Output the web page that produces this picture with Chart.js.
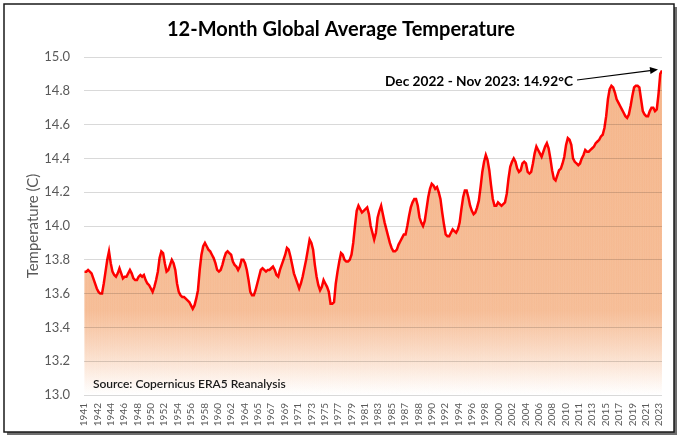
<!DOCTYPE html>
<html>
<head>
<meta charset="utf-8">
<script src="https://cdn.jsdelivr.net/npm/chart.js@4.4.0/dist/chart.umd.min.js"></script>
<style>
  html, body { margin: 0; padding: 0; background: #fff; }
  #wrap { position: relative; width: 680px; height: 438px; }
</style>
</head>
<body>
<div id="wrap"><canvas id="tempChart" width="680" height="438"></canvas></div>
<script>
// 12-month running mean global temperature (C), one reading every 3 months,
// first point Feb 1941, last point Nov 2023
const firstMonth = 1;      // months after Jan 1941
const stepMonths = 3;
const temps = [
    13.73, 13.73, 13.74, 13.73,  13.72, 13.69, 13.66, 13.63,  13.61, 13.60, 13.60, 13.66,
    13.73, 13.80, 13.85, 13.78,  13.73, 13.71, 13.70, 13.72,  13.75, 13.72, 13.69, 13.70,
    13.70, 13.72, 13.74, 13.72,  13.69, 13.68, 13.68, 13.70,  13.71, 13.70, 13.71, 13.68,
    13.66, 13.65, 13.63, 13.61,  13.64, 13.68, 13.73, 13.81,  13.85, 13.84, 13.78, 13.73,
    13.74, 13.77, 13.80, 13.78,  13.74, 13.66, 13.61, 13.59,  13.58, 13.58, 13.57, 13.56,
    13.55, 13.53, 13.51, 13.53,  13.57, 13.62, 13.74, 13.83,  13.88, 13.90, 13.88, 13.86,
    13.85, 13.83, 13.81, 13.78,  13.74, 13.73, 13.74, 13.77,  13.81, 13.84, 13.85, 13.84,
    13.83, 13.79, 13.77, 13.76,  13.74, 13.76, 13.80, 13.80,  13.78, 13.74, 13.68, 13.61,
    13.59, 13.59, 13.62, 13.66,  13.70, 13.74, 13.75, 13.74,  13.73, 13.74, 13.74, 13.75,
    13.76, 13.74, 13.71, 13.70,  13.74, 13.77, 13.80, 13.83,  13.87, 13.86, 13.82, 13.77,
    13.72, 13.69, 13.66, 13.63,  13.66, 13.70, 13.75, 13.80,  13.86, 13.92, 13.90, 13.86,
    13.77, 13.70, 13.65, 13.62,  13.64, 13.68, 13.66, 13.64,  13.61, 13.54, 13.54, 13.55,
    13.66, 13.73, 13.79, 13.84,  13.83, 13.80, 13.79, 13.79,  13.80, 13.83, 13.90, 14.00,
    14.09, 14.12, 14.10, 14.08,  14.09, 14.10, 14.11, 14.07,  14.00, 13.96, 13.92, 13.96,
    14.05, 14.09, 14.12, 14.07,  14.02, 13.98, 13.94, 13.90,  13.87, 13.85, 13.85, 13.86,
    13.89, 13.91, 13.93, 13.95,  13.95, 14.00, 14.06, 14.11,  14.14, 14.16, 14.16, 14.12,
    14.05, 14.02, 14.00, 14.03,  14.10, 14.17, 14.22, 14.25,  14.24, 14.22, 14.23, 14.20,
    14.16, 14.08, 14.01, 13.95,  13.94, 13.94, 13.96, 13.98,  13.97, 13.96, 13.98, 14.02,
    14.10, 14.17, 14.21, 14.21,  14.17, 14.12, 14.09, 14.07,  14.08, 14.11, 14.15, 14.23,
    14.32, 14.38, 14.42, 14.39,  14.33, 14.24, 14.16, 14.12,  14.12, 14.14, 14.13, 14.12,
    14.13, 14.14, 14.19, 14.28,  14.35, 14.38, 14.40, 14.38,  14.34, 14.32, 14.33, 14.37,
    14.38, 14.37, 14.32, 14.31,  14.32, 14.37, 14.43, 14.47,  14.45, 14.43, 14.41, 14.44,
    14.47, 14.49, 14.46, 14.40,  14.33, 14.28, 14.27, 14.30,  14.33, 14.34, 14.37, 14.41,
    14.48, 14.52, 14.51, 14.48,  14.40, 14.38, 14.37, 14.36,  14.37, 14.40, 14.42, 14.45,
    14.44, 14.44, 14.45, 14.46,  14.47, 14.49, 14.50, 14.51,  14.53, 14.54, 14.58, 14.65,
    14.75, 14.81, 14.83, 14.82,  14.79, 14.75, 14.73, 14.71,  14.69, 14.67, 14.65, 14.64,
    14.66, 14.71, 14.77, 14.82,  14.83, 14.83, 14.82, 14.75,  14.68, 14.66, 14.65, 14.65,
    14.68, 14.70, 14.70, 14.68,  14.69, 14.78, 14.90, 14.92
];

// category labels, one every 23 months starting Jan 1941
const tickEveryMonths = 23;
const tickYears = [1941, 1942, 1944, 1946, 1948, 1950, 1952, 1954, 1956, 1958, 1960,
    1962, 1964, 1965, 1967, 1969, 1971, 1973, 1975, 1977, 1979, 1981, 1983, 1985,
    1987, 1988, 1990, 1992, 1994, 1996, 1998, 2000, 2002, 2004, 2006, 2008, 2010,
    2011, 2013, 2015, 2017, 2019, 2021, 2023];

const lastLabel = 'Dec 2022 - Nov 2023: 14.92\u00B0C';
const sourceText = 'Source: Copernicus ERA5 Reanalysis';

const lastMonth = firstMonth + (temps.length - 1) * stepMonths;
const points = temps.map((v, i) => ({ x: firstMonth + i * stepMonths, y: v }));

Chart.defaults.font.family = 'Lato, "Open Sans", sans-serif';

// orange fading to white towards the bottom of the plot
function orangeFade(alphas) {
    return function (context) {
        const chart = context.chart;
        const area = chart.chartArea;
        if (!area) return null;
        const g = chart.ctx.createLinearGradient(0, area.top, 0, area.bottom);
        alphas.forEach(([stop, a]) => g.addColorStop(stop, 'rgba(237,125,49,' + a + ')'));
        return g;
    };
}

const decorations = {
    id: 'decorations',
    beforeDraw(chart) {
        const ctx = chart.ctx;
        ctx.save();
        ctx.fillStyle = '#ffffff';
        ctx.fillRect(0, 0, chart.width, chart.height);
        // frame with shadow
        ctx.fillStyle = '#6e6e6e';
        ctx.fillRect(7, 7, 670, 428);
        ctx.fillStyle = '#ffffff';
        ctx.fillRect(4, 4, 670, 428);
        ctx.strokeStyle = '#1a1a1a';
        ctx.lineWidth = 1.5;
        ctx.strokeRect(4, 4, 670, 428);
        ctx.restore();
    },
    afterDraw(chart) {
        const ctx = chart.ctx;
        const xs = chart.scales.x;
        const ys = chart.scales.y;
        ctx.save();
        ctx.fillStyle = '#1a1a1a';
        ctx.font = '600 12px Lato, sans-serif';
        ctx.textBaseline = 'alphabetic';
        ctx.fillText(sourceText, 93, 388);

        ctx.font = 'bold 13.7px Lato, sans-serif';
        ctx.fillStyle = '#000000';
        ctx.fillText(lastLabel, 385, 86);

        // arrow pointing at the last reading
        const tipX = xs.getPixelForValue(lastMonth) - 4;
        const tipY = ys.getPixelForValue(temps[temps.length - 1]) - 1;
        const startX = 577, startY = 80;
        const ang = Math.atan2(tipY - startY, tipX - startX);
        ctx.strokeStyle = '#000000';
        ctx.lineWidth = 1.2;
        ctx.beginPath();
        ctx.moveTo(startX, startY);
        ctx.lineTo(tipX - 6 * Math.cos(ang), tipY - 6 * Math.sin(ang));
        ctx.stroke();
        ctx.beginPath();
        ctx.moveTo(tipX, tipY);
        ctx.lineTo(tipX - 8 * Math.cos(ang) + 3.5 * Math.sin(ang), tipY - 8 * Math.sin(ang) - 3.5 * Math.cos(ang));
        ctx.lineTo(tipX - 8 * Math.cos(ang) - 3.5 * Math.sin(ang), tipY - 8 * Math.sin(ang) + 3.5 * Math.cos(ang));
        ctx.closePath();
        ctx.fillStyle = '#000000';
        ctx.fill();
        ctx.restore();
    }
};

new Chart(document.getElementById('tempChart'), {
    type: 'line',
    data: {
        datasets: [{
            // red line on top
            label: '12-month average',
            data: points,
            borderColor: '#ff0000',
            borderWidth: 2.5,
            pointRadius: 0,
            tension: 0,
            fill: false,
            order: 0
        }, {
            // thin columns over the area, gives the striped look
            type: 'bar',
            label: 'columns',
            data: points,
            barThickness: 1,
            backgroundColor: orangeFade([[0, 0.3], [0.75, 0.26], [0.9, 0.1], [1, 0]]),
            borderWidth: 0,
            order: 1
        }, {
            // soft orange area under the line
            label: 'area',
            data: points,
            borderWidth: 0,
            pointRadius: 0,
            tension: 0,
            fill: 'start',
            backgroundColor: orangeFade([[0, 0.38], [0.75, 0.34], [0.88, 0.16], [0.97, 0.03], [1, 0]]),
            order: 2
        }]
    },
    options: {
        responsive: false,
        animation: false,
        layout: {
            padding: { left: 20, right: 18, top: 0, bottom: 0 }
        },
        plugins: {
            legend: { display: false },
            tooltip: { enabled: false },
            title: {
                display: true,
                text: '12-Month Global Average Temperature',
                color: '#000000',
                font: { size: 20, weight: 'bold' },
                padding: { top: 18, bottom: 15 }
            }
        },
        scales: {
            x: {
                type: 'linear',
                min: 0,
                max: lastMonth,
                offset: false,
                afterBuildTicks: axis => {
                    axis.ticks = tickYears.map((yr, i) => ({ value: i * tickEveryMonths }));
                },
                afterFit: axis => { axis.height = 43; },
                ticks: {
                    autoSkip: false,
                    minRotation: 90,
                    maxRotation: 90,
                    padding: 8,
                    color: '#595959',
                    font: { size: 10 },
                    callback: (value, index) => tickYears[index]
                },
                grid: { display: false, drawTicks: false },
                border: { display: false }
            },
            y: {
                min: 13,
                max: 15,
                afterFit: axis => { axis.width = 64; },
                ticks: {
                    stepSize: 0.2,
                    padding: 14,
                    color: '#595959',
                    font: { size: 13 },
                    callback: v => v.toFixed(1)
                },
                grid: { color: 'rgba(0,0,0,0.15)', drawTicks: false, z: 1 },
                border: { display: false },
                title: {
                    display: true,
                    text: 'Temperature (C)',
                    color: '#595959',
                    font: { size: 15 }
                }
            }
        }
    },
    plugins: [decorations]
});
</script>
</body>
</html>
